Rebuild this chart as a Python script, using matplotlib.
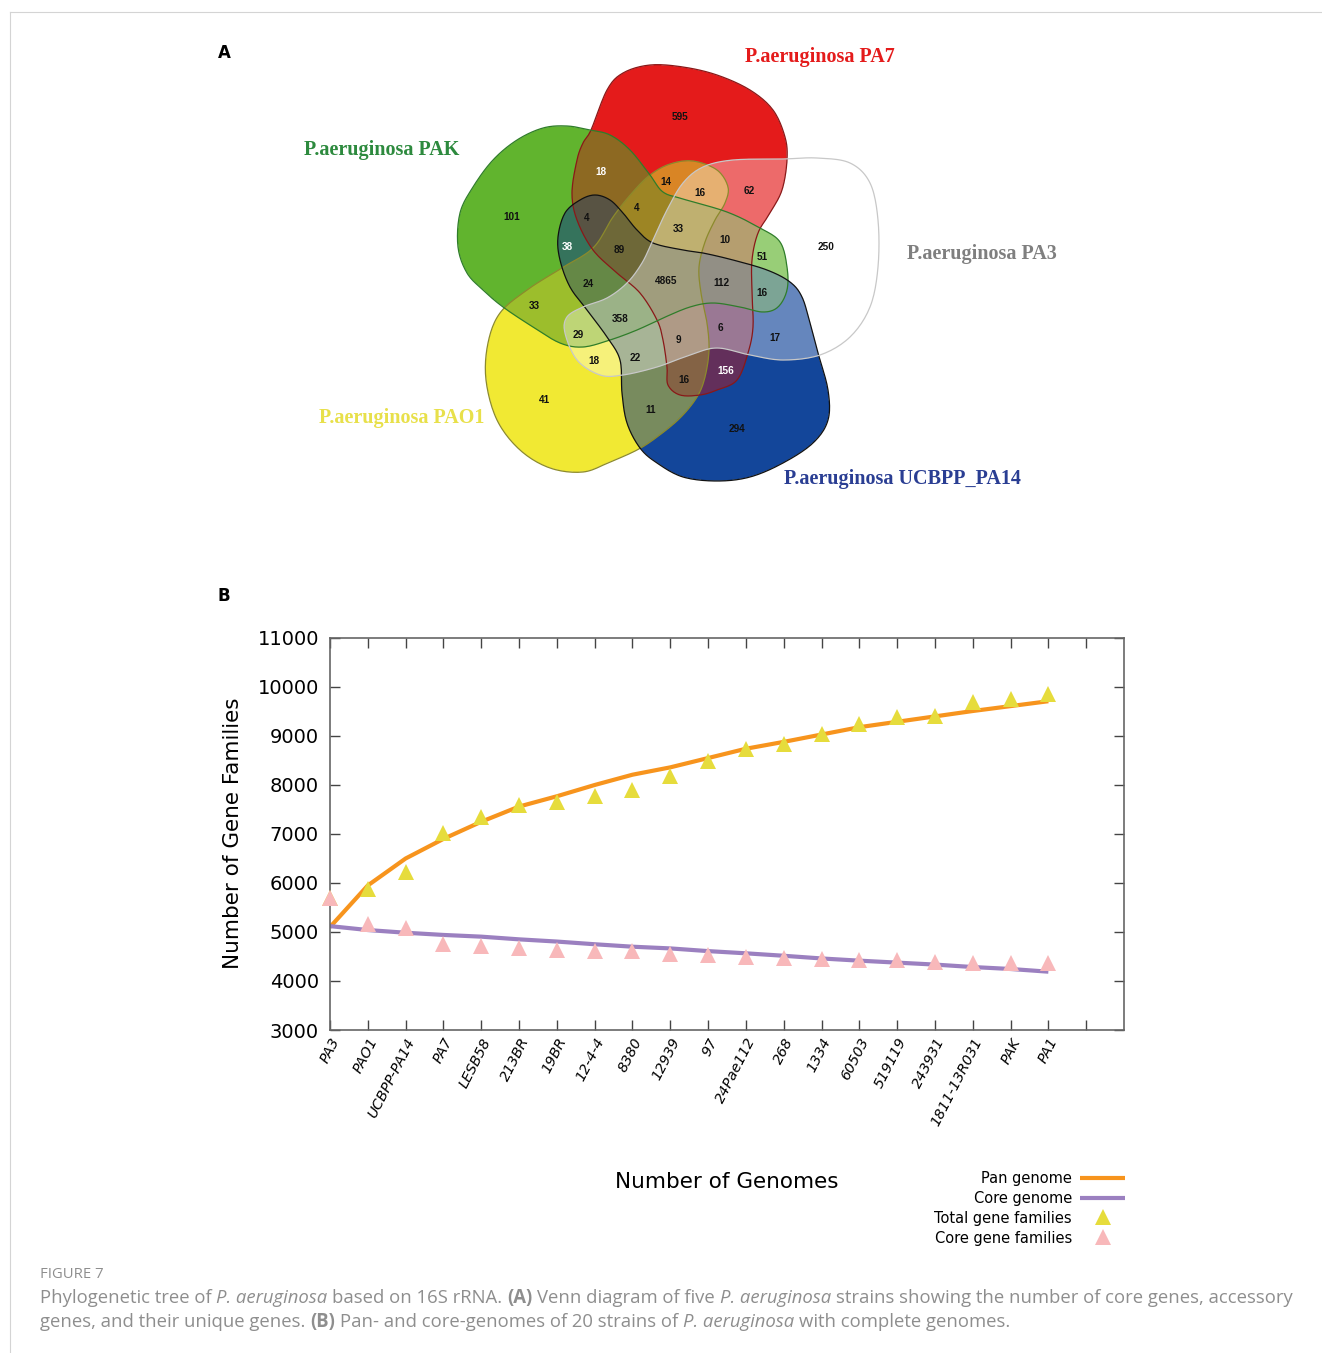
import numpy as np
import matplotlib
matplotlib.use("Agg")
import matplotlib.pyplot as plt
from matplotlib.path import Path
from matplotlib.patches import PathPatch
from matplotlib.colors import to_rgb

# ---------------- data ----------------
venn_sets = ["P.aeruginosa PA7", "P.aeruginosa PAK", "P.aeruginosa PA3",
             "P.aeruginosa PAO1", "P.aeruginosa UCBPP_PA14"]
venn_counts = [595, 18, 14, 16, 62, 101, 4, 4, 33, 10, 51, 250, 38, 89, 4865,
               112, 16, 24, 33, 358, 6, 17, 29, 9, 18, 22, 156, 16, 41, 11, 294]
venn_white = [1, 12, 26]

genomes = ["PA3", "PAO1", "UCBPP-PA14", "PA7", "LESB58", "213BR", "19BR", "12-4-4",
           "8380", "12939", "97", "24Pae112", "268", "1334", "60503", "519119",
           "243931", "1811-13R031", "PAK", "PA1"]
total_families = [5700, 5870, 6225, 7020, 7340, 7600, 7655, 7770, 7900, 8190,
                  8500, 8740, 8845, 9045, 9235, 9385, 9415, 9690, 9760, 9860]
core_families = [5700, 5170, 5090, 4750, 4710, 4680, 4630, 4620, 4620, 4550,
                 4525, 4485, 4465, 4450, 4430, 4430, 4385, 4375, 4375, 4375]
pan_genome = [5100, 5950, 6500, 6900, 7250, 7560, 7770, 8000, 8210, 8360,
              8550, 8740, 8880, 9030, 9180, 9290, 9400, 9510, 9610, 9710]
core_genome = [5120, 5040, 4985, 4940, 4905, 4850, 4805, 4750, 4700, 4665,
               4610, 4565, 4515, 4460, 4415, 4375, 4335, 4285, 4245, 4190]
y_ticks = [3000, 4000, 5000, 6000, 7000, 8000, 9000, 10000, 11000]

# ---------------- geometry (pixel space) ----------------
W, H = 1322, 1353
RED = [(591,130),(607,90),(623,73),(650,65),(683,67),(717,75),(750,90),(773,110),
       (785,137),(787,160),(782,190),(770,213),(758,233),(752,260),(752,293),(753,327),
       (748,353),(737,380),(717,390),(700,395),(680,395),(668,385),(667,367),(663,340),
       (657,320),(640,293),(617,273),(593,250),(577,220),(572,193),(577,160),(583,143)]
GREEN = [(590,130),(567,126),(543,128),(517,140),(493,160),(473,187),(460,213),(458,247),
         (467,273),(483,290),(503,307),(533,327),(560,343),(583,347),(610,340),(637,330),
         (663,318),(690,307),(713,303),(740,307),(763,312),(778,307),(787,290),(787,267),
         (780,242),(760,228),(727,212),(683,199),(663,192),(650,175),(630,150),(610,135)]
YELLOW = [(650,175),(670,164),(693,161),(717,170),(728,187),(725,203),(715,220),(705,242),
          (699,267),(701,293),(707,323),(709,350),(705,377),(697,397),(680,418),(657,437),
          (637,450),(610,462),(583,472),(550,468),(520,450),(497,420),(486,380),(488,343),
          (500,313),(527,290),(560,269),(593,248),(613,217),(632,193)]
BLUE = [(595,195),(610,200),(623,213),(637,230),(653,243),(683,250),(703,253),(733,260),
        (767,270),(790,282),(802,297),(810,323),(818,353),(828,390),(828,420),(813,443),
        (783,463),(750,477),(717,481),(683,477),(657,463),(640,448),(627,423),(622,393),
        (620,360),(607,337),(587,310),(570,287),(560,260),(558,237),(565,213),(580,200)]
PA3 = [(783,159),(817,158),(850,163),(870,183),(878,220),(878,267),(870,307),(850,337),
       (820,355),(783,360),(750,355),(717,348),(690,355),(657,367),(623,375),(600,375),
       (577,360),(565,333),(567,317),(583,307),(607,298),(627,283),(642,263),(653,240),
       (667,210),(683,183),(703,167),(733,160)]
count_pos = [(680,117),(601,172),(666,182),(700,193),(749,191),(512,217),(587,218),
             (637,208),(678,229),(725,240),(762,257),(826,247),(567,247),(619,250),
             (666,281),(721,283),(762,293),(588,284),(534,306),(620,319),(720,328),
             (775,338),(578,335),(678,340),(594,361),(635,358),(726,371),(684,380),
             (544,400),(651,410),(737,429)]


def catmull(pts, n=12):
    P = np.asarray(pts, float)
    N = len(P)
    t = np.linspace(0, 1, n, endpoint=False)[:, None]
    segs = []
    for i in range(N):
        p0, p1, p2, p3 = P[i - 1], P[i], P[(i + 1) % N], P[(i + 2) % N]
        segs.append(0.5 * ((2 * p1) + (-p0 + p2) * t + (2 * p0 - 5 * p1 + 4 * p2 - p3) * t ** 2
                           + (-p0 + 3 * p1 - 3 * p2 + p3) * t ** 3))
    c = np.vstack(segs)
    return np.vstack([c, c[:1]])


fig = plt.figure(figsize=(W / 100, H / 100), dpi=100)
ov = fig.add_axes([0, 0, 1, 1])
ov.axis("off")

# frame lines
ov.plot([10, W], [12, 12], color="#d4d4d4", lw=0.8)
ov.plot([10, 10], [12, H], color="#d4d4d4", lw=0.8)

# ---- Venn raster ----
shapes = {"yellow": YELLOW, "red": RED, "green": GREEN, "blue": BLUE, "pa3": PA3}
curves = {k: catmull(v) for k, v in shapes.items()}
fills = {"yellow": "#f2ea33", "red": "#e41b1b", "green": "#62b52e", "blue": "#13469a"}
weights = {"yellow": 1.0, "red": 0.75, "green": 1.0, "blue": 1.0}
edges = {"yellow": "#8c8a2c", "red": "#8a1818", "green": "#2f7d2a",
         "blue": "#111111", "pa3": "#c8c8c8"}

x0, x1, y0, y1 = 440, 900, 50, 495
step = 0.5
xs = np.arange(x0, x1, step) + step / 2
ys = np.arange(y0, y1, step) + step / 2
XX, YY = np.meshgrid(xs, ys)
pts = np.column_stack([XX.ravel(), YY.ravel()])
masks = {k: Path(curves[k]).contains_points(pts).reshape(XX.shape) for k in shapes}
csum = np.zeros(XX.shape + (3,))
wsum = np.zeros(XX.shape)
cnt = np.zeros(XX.shape)
for k, c in fills.items():
    m = masks[k]
    csum[m] += weights[k] * np.array(to_rgb(c))
    wsum[m] += weights[k]
    cnt[m] += 1
col = np.ones(XX.shape + (3,))
has = cnt > 0
col[has] = csum[has] / wsum[has][:, None] * (0.92 ** (cnt[has] - 1))[:, None]
p3 = masks["pa3"] & has
col[p3] = 0.35 * 1.0 + 0.65 * col[p3]
anyin = has | masks["pa3"]
img = np.zeros(XX.shape + (4,))
img[..., :3] = col
img[..., 3] = anyin.astype(float)
ov.imshow(img, extent=(x0, x1, y1, y0), origin="upper", interpolation="bilinear", zorder=1)
for k in ["yellow", "red", "green", "blue", "pa3"]:
    ov.add_patch(PathPatch(Path(curves[k]), fill=False, edgecolor=edges[k], lw=0.9, zorder=2))

for i, (v, (px, py)) in enumerate(zip(venn_counts, count_pos)):
    ov.text(px, py, str(v), ha="center", va="center", fontsize=7.2, fontweight="bold",
            family="Liberation Sans", color="white" if i in venn_white else "#111111", zorder=3)

label_pos = [(820, 57), (382, 150), (982, 254), (402, 418), (902, 479)]
label_col = ["#e41b1b", "#2d8a3e", "#7f7f7f", "#e8e04a", "#2a3e93"]
for s, (px, py), c in zip(venn_sets, label_pos, label_col):
    ov.text(px, py, s, ha="center", va="center", fontsize=14.5, fontweight="bold",
            family="Liberation Serif", color=c, zorder=3)

ov.text(224, 53, "A", ha="center", va="center", fontsize=12, fontweight="bold", family="DejaVu Sans")
ov.text(224, 596, "B", ha="center", va="center", fontsize=12, fontweight="bold", family="DejaVu Sans")

ov.set_xlim(0, W)
ov.set_ylim(H, 0)
ov.set_aspect("auto")

# ---- Panel B ----
ax = fig.add_axes([330 / W, 1 - 1030 / H, 794 / W, 392 / H])
x = np.arange(1, len(genomes) + 1)
ax.plot(x, pan_genome, color="#f7941d", lw=3, solid_capstyle="butt", zorder=2)
ax.plot(x, core_genome, color="#9b80c0", lw=3, solid_capstyle="butt", zorder=2)
ax.plot(x, total_families, "^", color="#e6dc3c", ms=11, mew=0, clip_on=False, zorder=3)
ax.plot(x, core_families, "^", color="#f8b8ba", ms=11, mew=0, clip_on=False, zorder=4)
ax.set_xlim(1, 22)
ax.set_ylim(3000, 11000)
ax.set_yticks(y_ticks)
ax.set_yticklabels([str(v) for v in y_ticks], fontsize=14, family="DejaVu Sans")
ax.set_xticks(list(x) + [21])
ax.set_xticklabels(genomes + [""], rotation=63, ha="right", va="top", rotation_mode="anchor",
                   fontsize=10.3, style="italic", family="DejaVu Sans")
ax.tick_params(direction="in", top=True, right=True, length=7, width=1, color="#444444")
ax.tick_params(axis="y", pad=8)
ax.tick_params(axis="x", pad=4)
for sp in ax.spines.values():
    sp.set_color("#666666")
    sp.set_linewidth(1.2)

ov.text(233, 833, "Number of Gene Families", rotation=90, ha="center", va="center",
        fontsize=15.5, family="DejaVu Sans")
ov.text(727, 1182, "Number of Genomes", ha="center", va="center", fontsize=15.5, family="DejaVu Sans")

# legend
leg_labels = ["Pan genome", "Core genome", "Total gene families", "Core gene families"]
leg_y = [1178, 1198, 1218, 1238]
for s, yy in zip(leg_labels, leg_y):
    ov.text(1072, yy, s, ha="right", va="center", fontsize=10.5, family="DejaVu Sans")
ov.plot([1080, 1125], [leg_y[0], leg_y[0]], color="#f7941d", lw=3, solid_capstyle="butt")
ov.plot([1080, 1125], [leg_y[1], leg_y[1]], color="#9b80c0", lw=3, solid_capstyle="butt")
ov.plot([1103], [leg_y[2] - 1], "^", color="#e6dc3c", ms=11, mew=0)
ov.plot([1103], [leg_y[3] - 1], "^", color="#f8b8ba", ms=11, mew=0)

# ---- caption ----
renderer = fig.canvas.get_renderer()
CAPF = "Open Sans"


def twidth(s, size, **kw):
    t = ov.text(0, 0, "|" + s + "|", fontsize=size, family=CAPF, **kw)
    a = t.get_window_extent(renderer).width
    t.remove()
    t = ov.text(0, 0, "||", fontsize=size, family=CAPF, **kw)
    b = t.get_window_extent(renderer).width
    t.remove()
    return a - b


def rich_line(xs0, yy, pieces, size, color, draw=True):
    xc = xs0
    for s, kw in pieces:
        stripped = s.strip(" ")
        lead = len(s) - len(s.lstrip(" "))
        trail = len(s) - len(s.rstrip(" "))
        sp = twidth(" ", size, **kw)
        xc += lead * sp
        if draw:
            ov.text(xc, yy, stripped, fontsize=size, color=color, va="center", ha="left",
                    family=CAPF, **kw)
        xc += twidth(stripped, size, **kw) + trail * sp
    return xc - xs0


N = {}
I = {"style": "italic"}
B = {"weight": "bold"}
line1 = [("Phylogenetic tree of ", N), ("P. aeruginosa", I), (" based on 16S rRNA. ", N),
         ("(A)", B), (" Venn diagram of five ", N), ("P. aeruginosa", I),
         (" strains showing the number of core genes, accessory", N)]
line2 = [("genes, and their unique genes. ", N), ("(B)", B),
         (" Pan- and core-genomes of 20 strains of ", N), ("P. aeruginosa", I),
         (" with complete genomes.", N)]
w12 = rich_line(40, 1298, line1, 12, "k", draw=False)
csize = 12 * 1250 / w12
rich_line(40, 1298, line1, csize, "#8e8e8e")
rich_line(40, 1322, line2, csize, "#8e8e8e")
ov.text(40, 1274, "FIGURE 7", fontsize=csize * 0.8, color="#8e8e8e", va="center", ha="left",
        family=CAPF)

fig.savefig("out.png", dpi=100)
